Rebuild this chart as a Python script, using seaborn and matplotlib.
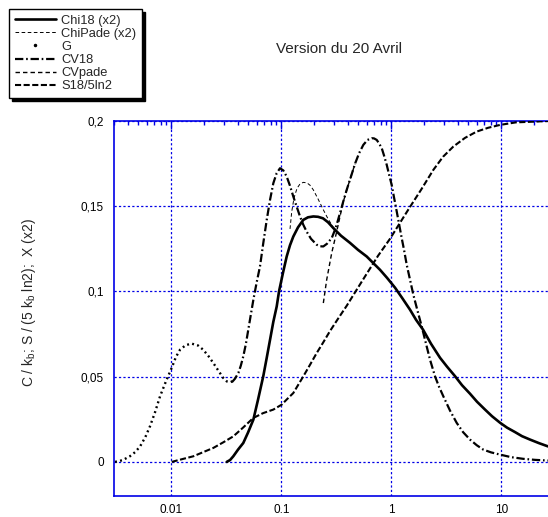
import matplotlib
matplotlib.use("Agg")
import matplotlib.pyplot as plt
import seaborn as sns
from matplotlib.lines import Line2D
from matplotlib.ticker import FixedLocator, FixedFormatter, LogLocator, MultipleLocator, NullFormatter

# ---------------- data ----------------
title = "Version du 20 Avril"
ylabel = r"C / k$_\mathregular{b}$; S / (5 k$_\mathregular{b}$ ln2);  X (x2)"
series_names = ["Chi18 (x2)", "ChiPade (x2)", "G", "CV18", "CVpade", "S18/5ln2"]

x_ticks = [0.01, 0.1, 1, 10]
x_tick_labels = ["0.01", "0.1", "1", "10"]
y_ticks = [0, 0.05, 0.1, 0.15, 0.2]
y_tick_labels = ["0", "0,05", "0,1", "0,15", "0,2"]

chi18_x = [0.0319, 0.0342, 0.0366, 0.0404, 0.0451, 0.0498, 0.0557, 0.0614, 0.0686, 0.0737,
           0.0790, 0.0846, 0.0908, 0.0953, 0.1036, 0.1119, 0.1199, 0.1285, 0.1418, 0.1585,
           0.1748, 0.1954, 0.2156, 0.2394, 0.2658, 0.2970, 0.3488, 0.4212, 0.498, 0.5976,
           0.6818, 0.7895, 0.914, 1.081, 1.251, 1.479, 1.677, 1.942, 2.296, 2.772,
           3.208, 3.794, 4.393, 5.194, 6.013, 7.109, 8.232, 9.728, 11.27, 13.32,
           15.42, 18.24, 22.02, 26.58]
chi18_y = [0.0, 0.0011, 0.0033, 0.0072, 0.0111, 0.0172, 0.0248, 0.0365, 0.0504, 0.0611,
           0.0717, 0.0822, 0.0912, 0.1000, 0.1110, 0.1205, 0.1271, 0.1322, 0.1376, 0.1420,
           0.1435, 0.1440, 0.1438, 0.1429, 0.1406, 0.1372, 0.1327, 0.1285, 0.1244, 0.1205,
           0.1168, 0.1127, 0.1080, 0.1022, 0.0963, 0.0893, 0.0834, 0.0776, 0.0693, 0.0611,
           0.0559, 0.0503, 0.0450, 0.0400, 0.0353, 0.0307, 0.0268, 0.0230, 0.0201, 0.0175,
           0.0151, 0.0131, 0.0110, 0.0091]

chipade_x = [0.12, 0.1243, 0.1305, 0.1389, 0.148, 0.1585, 0.1712, 0.1824, 0.1954, 0.2156,
             0.241, 0.2658, 0.287, 0.297]
chipade_y = [0.1367, 0.1467, 0.1549, 0.1605, 0.1631, 0.164, 0.1637, 0.1623, 0.1596, 0.1543,
             0.1479, 0.1426, 0.1391, 0.1372]

g_x = [0.00308, 0.0036, 0.0042, 0.0047, 0.0052, 0.0058, 0.0064, 0.0071, 0.0079, 0.0089,
       0.0101, 0.0110, 0.0120, 0.0135, 0.0153, 0.0175, 0.0195, 0.0218, 0.0241, 0.0268,
       0.0297, 0.0320, 0.0342, 0.0365]
g_y = [0.0, 0.001, 0.0033, 0.0058, 0.0091, 0.0145, 0.0209, 0.029, 0.0385, 0.0470,
       0.0553, 0.0615, 0.0658, 0.0685, 0.0694, 0.0683, 0.0658, 0.0620, 0.0580, 0.0535,
       0.0492, 0.0472, 0.0467, 0.0475]

cv18_x = [0.0356, 0.0379, 0.0407, 0.0428, 0.0451, 0.0476, 0.0501, 0.0528, 0.0557, 0.0596,
          0.0640, 0.0686, 0.0737, 0.0790, 0.0846, 0.0906, 0.0973, 0.1043, 0.1119, 0.1199,
          0.1285, 0.1380, 0.1479, 0.1585, 0.1702, 0.1862, 0.2098, 0.2248, 0.2409, 0.2603,
          0.2872, 0.3077, 0.3243, 0.3417, 0.3661, 0.393, 0.4302, 0.4677, 0.5086, 0.5566,
          0.6077, 0.6634, 0.696, 0.7366, 0.773, 0.818, 0.858, 0.9083, 0.953, 1.008,
          1.058, 1.12, 1.175, 1.243, 1.305, 1.38, 1.479, 1.585, 1.730, 1.889,
          2.068, 2.248, 2.496, 2.715, 2.970, 3.417, 3.930, 4.486, 5.194, 5.976,
          6.862, 8.06, 9.728, 12.25, 15.85, 20.25, 26.58]
cv18_y = [0.0468, 0.0488, 0.0522, 0.0564, 0.0619, 0.0691, 0.0776, 0.0863, 0.0951, 0.1051,
          0.1147, 0.1285, 0.1420, 0.1538, 0.1635, 0.1693, 0.1723, 0.1710, 0.1674, 0.1620,
          0.1557, 0.1497, 0.1440, 0.1391, 0.1350, 0.1309, 0.1274, 0.1265, 0.1264, 0.1280,
          0.1313, 0.1362, 0.1409, 0.1460, 0.1529, 0.1596, 0.1675, 0.1749, 0.1810, 0.1860,
          0.1889, 0.1899, 0.1898, 0.1889, 0.1869, 0.1841, 0.1798, 0.1743, 0.1687, 0.1625,
          0.1552, 0.1469, 0.1397, 0.1313, 0.1244, 0.1157, 0.1069, 0.0981, 0.0887, 0.0795,
          0.0693, 0.0600, 0.0502, 0.0441, 0.0385, 0.0301, 0.0229, 0.0175, 0.0131, 0.0098,
          0.0072, 0.0056, 0.0043, 0.0028, 0.0018, 0.0012, 0.0008]

cvpade_x = [0.241, 0.2586, 0.287, 0.319, 0.3417, 0.364, 0.393, 0.4302, 0.4677]
cvpade_y = [0.0932, 0.1069, 0.1225, 0.1352, 0.144, 0.152, 0.1596, 0.1675, 0.1749]

s18_x = [0.01008, 0.01251, 0.01585, 0.01942, 0.02409, 0.02951, 0.03662, 0.04486, 0.05566, 0.06818,
         0.08459, 0.1008, 0.1127, 0.1285, 0.1418, 0.1585, 0.1824, 0.2098, 0.2394, 0.2772,
         0.3278, 0.393, 0.4777, 0.5976, 0.757, 0.973, 1.200, 1.479, 1.862, 2.409,
         2.951, 3.662, 4.677, 5.976, 7.57, 9.728, 13.6, 19.42, 26.58]
s18_y = [0.0, 0.0016, 0.0033, 0.0057, 0.0082, 0.0114, 0.0150, 0.0201, 0.0258, 0.0286,
         0.0307, 0.0336, 0.0368, 0.0404, 0.0450, 0.0502, 0.0570, 0.0639, 0.0699, 0.0768,
         0.0840, 0.0916, 0.1004, 0.1104, 0.1209, 0.1309, 0.1403, 0.1496, 0.1596, 0.1713,
         0.1790, 0.1850, 0.1901, 0.1938, 0.1960, 0.1977, 0.1992, 0.1996, 0.2]

# ---------------- style ----------------
sns.set_style("white")
plt.rcParams["font.family"] = ["Liberation Sans", "DejaVu Sans"]
plt.rcParams["lines.scale_dashes"] = False
BLUE = "#0000e6"

fig = plt.figure(figsize=(5.48, 5.17), dpi=100)
ax = fig.add_axes([113.8 / 548, 1 - 496 / 517, 440 / 548, 375 / 517])

styles = {
    "Chi18 (x2)": dict(lw=1.9, ls="-"),
    "ChiPade (x2)": dict(lw=0.7, ls=(0, (2.6, 1.8))),
    "G": dict(lw=1.7, ls=(0, (1.4, 2.3))),
    "CV18": dict(lw=1.6, ls=(0, (6.0, 2.0, 1.2, 2.0))),
    "CVpade": dict(lw=1.0, ls=(0, (3.2, 2.2))),
    "S18/5ln2": dict(lw=1.5, ls=(0, (4.4, 1.8))),
}
data = {
    "Chi18 (x2)": (chi18_x, chi18_y),
    "ChiPade (x2)": (chipade_x, chipade_y),
    "G": (g_x, g_y),
    "CV18": (cv18_x, cv18_y),
    "CVpade": (cvpade_x, cvpade_y),
    "S18/5ln2": (s18_x, s18_y),
}

for name in series_names:
    xs, ys = data[name]
    st = styles[name]
    sns.lineplot(x=xs, y=ys, ax=ax, color="black", linewidth=st["lw"],
                 linestyle=st["ls"], sort=False, estimator=None, legend=False,
                 zorder=3)

ax.set_xscale("log")
ax.set_xlim(0.003, 30)
ax.set_ylim(-0.02, 0.2)

ax.xaxis.set_major_locator(FixedLocator(x_ticks))
ax.xaxis.set_major_formatter(FixedFormatter(x_tick_labels))
ax.xaxis.set_minor_locator(LogLocator(base=10, subs=range(2, 10), numticks=20))
ax.xaxis.set_minor_formatter(NullFormatter())
ax.yaxis.set_major_locator(FixedLocator(y_ticks))
ax.yaxis.set_major_formatter(FixedFormatter(y_tick_labels))
ax.yaxis.set_minor_locator(MultipleLocator(0.01))

ax.grid(True, which="major", color=BLUE, linestyle=(0, (1.6, 1.6)), linewidth=0.9, zorder=1)
ax.set_axisbelow(True)

for side in ["left", "top", "bottom"]:
    ax.spines[side].set_color(BLUE)
    ax.spines[side].set_linewidth(1.2)
ax.spines["right"].set_visible(False)

ax.tick_params(axis="both", which="both", direction="in", color=BLUE, width=1.0,
               labelcolor="black", labelsize=8.5, top=True, right=False)
ax.tick_params(axis="both", which="major", length=5.5)
ax.tick_params(axis="both", which="minor", length=3)
ax.tick_params(axis="x", which="major", pad=6)
ax.tick_params(axis="y", which="major", pad=7)

ax.set_xlabel("")
ax.set_ylabel(ylabel, fontsize=10)
ax.yaxis.set_label_coords(-0.172, 0.517)

fig.text(339 / 548, 1 - 53.3 / 517, title, ha="center", va="baseline", fontsize=11)

handles = []
for name in series_names:
    st = styles[name]
    if name == "G":
        handles.append(Line2D([], [], color="black", marker=".", markersize=3, linestyle="none"))
    else:
        handles.append(Line2D([], [], color="black", linewidth=st["lw"], linestyle=st["ls"]))
leg = fig.legend(handles, series_names, loc="upper left",
                 bbox_to_anchor=(9 / 548, 1 - 9 / 517), bbox_transform=fig.transFigure,
                 frameon=True, fancybox=False, edgecolor="black", framealpha=1,
                 shadow={"color": "black", "alpha": 1, "ox": 2, "oy": -2},
                 fontsize=9.3, labelspacing=0.08, handlelength=3.2, handletextpad=0.4,
                 borderpad=0.45, borderaxespad=0)
leg.get_frame().set_linewidth(1.0)

fig.savefig("out.png", dpi=100)
